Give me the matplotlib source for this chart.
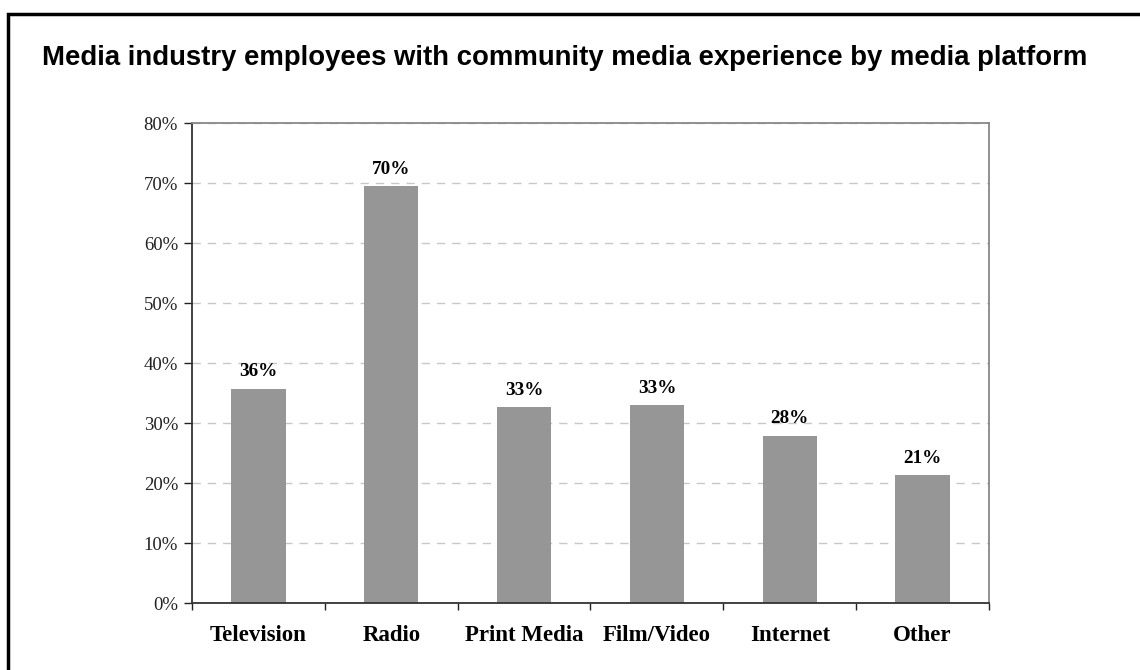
import numpy as np
import matplotlib.pyplot as plt
from matplotlib.patches import Rectangle
from matplotlib.ticker import FixedLocator, PercentFormatter

categories = ["Television", "Radio", "Print Media", "Film/Video", "Internet", "Other"]
values = [35.7, 69.5, 32.6, 33.0, 27.9, 21.3]
labels = ["36%", "70%", "33%", "33%", "28%", "21%"]
title = "Media industry employees with community media experience by media platform"

fig = plt.figure(figsize=(11.4, 6.7), dpi=100)
fig.patch.set_facecolor("white")

# outer frame, running off the right and bottom edges
fig.patches.append(Rectangle((7.5 / 1140, -0.05), 1.2, 1 - 14 / 670 + 0.05,
                             transform=fig.transFigure, fill=False,
                             edgecolor="black", linewidth=2.5))

fig.text(565 / 1140, 1 - 58 / 670, title, ha="center", va="center",
         fontsize=19.8, fontweight="bold", family="Liberation Sans")

ax = fig.add_axes([192 / 1140, 1 - 603 / 670, 797 / 1140, 480 / 670])
x = np.arange(len(categories))
ax.bar(x, values, width=0.41, color="#969696", zorder=2)

for xi, v, lab in zip(x, values, labels):
    ax.text(xi, v + 1.4, lab, ha="center", va="bottom", fontsize=13.8,
            fontweight="bold", family="Liberation Serif")

ax.set_xlim(-0.5, len(categories) - 0.5)
ax.set_ylim(0, 80)
ax.set_yticks(np.arange(0, 81, 10))
ax.yaxis.set_major_formatter(PercentFormatter(decimals=0))
ax.set_xticks(x)
ax.set_xticklabels(categories, fontsize=16.5, fontweight="bold", family="Liberation Serif")
ax.xaxis.set_minor_locator(FixedLocator(np.arange(-0.5, len(categories), 1)))
ax.tick_params(axis="x", which="major", length=0, pad=16)
ax.tick_params(axis="x", which="minor", length=5, width=1, color="#222222", direction="out")
ax.tick_params(axis="y", length=6, width=1, color="#222222", pad=4)
for t in ax.get_yticklabels():
    t.set_family("Liberation Serif")
    t.set_fontsize(13.5)
    t.set_color("#222222")

ax.grid(axis="y", linestyle=(0, (6, 5)), color="#c8c8c8", linewidth=1, zorder=0)
ax.spines["left"].set_color("#333333")
ax.spines["bottom"].set_color("#333333")
ax.spines["left"].set_linewidth(1.3)
ax.spines["bottom"].set_linewidth(1.3)
ax.spines["top"].set_color("#888888")
ax.spines["right"].set_color("#888888")
ax.spines["top"].set_linewidth(1.3)
ax.spines["right"].set_linewidth(1.3)

fig.savefig("out.png", dpi=100)
